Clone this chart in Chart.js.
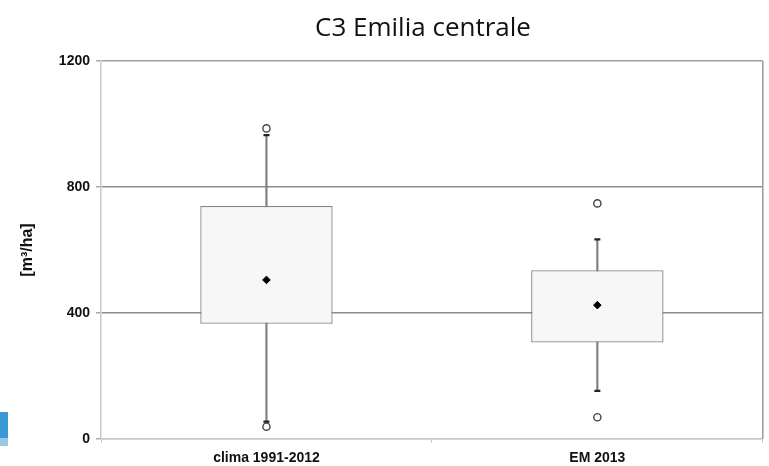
<!DOCTYPE html>
<html>
<head>
<meta charset="utf-8">
<script src="https://cdn.jsdelivr.net/npm/chart.js@4.4.1/dist/chart.umd.min.js"></script>
<style>
  body { margin: 0; background: #fff; }
  #wrap { position: relative; width: 769px; height: 466px; }
  #title { position: absolute; left: 223px; width: 400px; top: 8px; text-align: center;
           font-family: 'Open Sans', sans-serif; font-size: 26px; color: #111; line-height: normal; }
  #logo { position: absolute; left: 0; top: 412px; width: 8px; height: 26px; background: #3a98d6; }
  #logo2 { position: absolute; left: 0; top: 438px; width: 8px; height: 8px; background: #9cc8e4; }
</style>
</head>
<body>
<div id="wrap">
  <canvas id="chart" width="769" height="466"></canvas>
  <div id="title">C3 Emilia centrale</div>
  <div id="logo"></div><div id="logo2"></div>
</div>
<script>
var labels = ['clima 1991-2012', 'EM 2013'];
var q1 = [366, 306];
var q3 = [740, 536];
var means = [505, 425];
var whiskerLow = [55, 153];
var whiskerHigh = [965, 634];
var outlierHigh = [986, 748];
var outlierLow = [39, 69];
var yTicks = [0, 400, 800, 1200];

var boxes = [];
var whiskers = [];
for (var i = 0; i < labels.length; i++) {
  boxes.push([q1[i], q3[i]]);
  whiskers.push([whiskerLow[i], whiskerHigh[i]]);
}

function markers(data, style, r, fill, border, bw) {
  return {
    type: 'line', data: data, showLine: false, order: 1,
    pointStyle: style, pointRadius: r, pointBackgroundColor: fill,
    pointBorderColor: border, pointBorderWidth: bw
  };
}

// right edge of the plot frame
var frame = {
  id: 'frame',
  beforeDatasetsDraw: function (chart) {
    var a = chart.chartArea, c = chart.ctx;
    c.save();
    c.strokeStyle = '#9a9a9a';
    c.lineWidth = 1.5;
    c.beginPath();
    c.moveTo(a.right, a.top);
    c.lineTo(a.right, a.bottom);
    c.stroke();
    c.restore();
  }
};

var ctx = document.getElementById('chart').getContext('2d');
new Chart(ctx, {
  data: {
    labels: labels,
    datasets: [
      { type: 'bar', data: whiskers, grouped: false, order: 4, barThickness: 1.5,
        backgroundColor: '#808080' },
      { type: 'bar', data: boxes, grouped: false, order: 3, barPercentage: 0.4, categoryPercentage: 1,
        backgroundColor: '#f7f7f7', borderColor: '#858585', borderWidth: 1.3, borderSkipped: false },
      markers(whiskerHigh, 'line', 3, '#222', '#222', 2.2),
      markers(whiskerLow, 'line', 3, '#222', '#222', 2.2),
      markers(outlierHigh, 'circle', 3.6, '#fff', '#444', 1.4),
      markers(outlierLow, 'circle', 3.6, '#fff', '#444', 1.4),
      markers(means, 'rectRot', 3.8, '#000', '#000', 1)
    ]
  },
  options: {
    responsive: false,
    animation: false,
    layout: { padding: { left: 0, right: 3, top: 61, bottom: 0 } },
    plugins: {
      legend: { display: false },
      tooltip: { enabled: false },
      title: { display: false }
    },
    scales: {
      x: {
        type: 'category',
        offset: true,
        afterFit: function (s) { s.height = 27; },
        grid: { offset: true, drawOnChartArea: false, tickLength: 4, color: '#c8c8c8' },
        border: { color: '#c8c8c8', width: 1.5 },
        ticks: { color: '#111', padding: 7, font: { family: 'Liberation Sans', size: 14, weight: 'bold' } }
      },
      y: {
        min: 0, max: 1200,
        afterFit: function (s) { s.width = 101; },
        afterBuildTicks: function (s) { s.ticks = yTicks.map(function (v) { return { value: v }; }); },
        grid: {
          tickLength: 5,
          tickColor: '#aaa',
          lineWidth: 1.5,
          color: function (c) { return c.tick && c.tick.value === 0 ? '#c8c8c8' : (c.tick && c.tick.value === 1200 ? '#a0a0a0' : '#8c8c8c'); }
        },
        border: { color: '#c8c8c8', width: 1.5 },
        ticks: {
          color: '#111', padding: 6,
          font: { family: 'Liberation Sans', size: 14, weight: 'bold' },
          callback: function (v) { return String(v); }
        },
        title: {
          display: true,
          text: '[m³/ha]',
          color: '#111',
          padding: { top: 18, bottom: 0 },
          font: { family: 'Liberation Sans', size: 16, weight: 'bold' }
        }
      }
    }
  },
  plugins: [frame]
});
</script>
</body>
</html>
